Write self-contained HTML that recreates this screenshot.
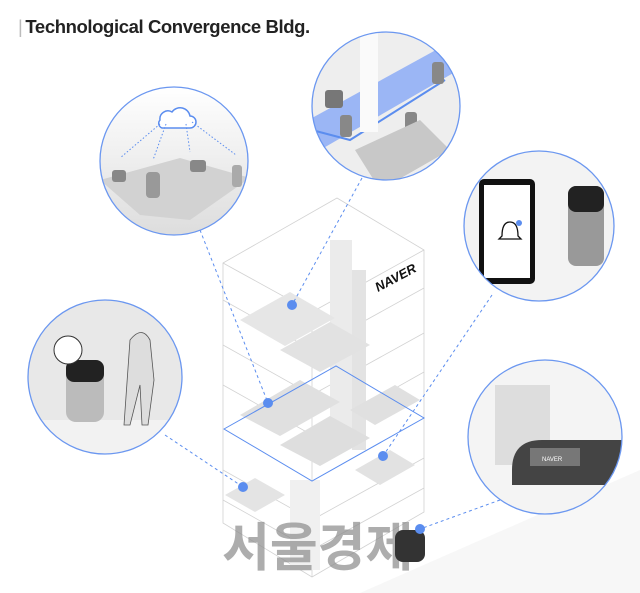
<!DOCTYPE html>
<html><head><meta charset="utf-8"><style>
body{margin:0;background:#fff;width:640px;height:593px;overflow:hidden;position:relative;font-family:"Liberation Sans","Noto Sans CJK KR",sans-serif}
.t{position:absolute;left:18px;top:16px;font-size:18.5px;font-weight:bold;color:#222;letter-spacing:-0.4px}
.t span{color:#bbb;font-weight:normal;margin-right:3px}
</style></head><body>
<div class="t"><span>|</span>Technological Convergence Bldg.</div>
<svg width="640" height="593" style="position:absolute;left:0;top:0">
<defs>
<linearGradient id="g" x1="0" y1="0" x2="0" y2="1"><stop offset="0" stop-color="#fff"/><stop offset="1" stop-color="#ddd"/></linearGradient>
<clipPath id="c1"><circle cx="174" cy="161" r="74"/></clipPath>
<clipPath id="c2"><circle cx="386" cy="106" r="74"/></clipPath>
<clipPath id="c3"><circle cx="539" cy="226" r="75"/></clipPath>
<clipPath id="c4"><circle cx="105" cy="377" r="77"/></clipPath>
<clipPath id="c5"><circle cx="545" cy="437" r="77"/></clipPath>
</defs>
<polygon points="360,593 640,470 640,593" fill="#f7f7f7"/>
<g fill="none" stroke="#d2d2d2" stroke-width="0.8">
<polygon points="223,263 337,198 424,250 424,512 312,577 223,523"/>
<line x1="223" y1="263" x2="312" y2="312"/><line x1="312" y1="312" x2="424" y2="250"/>
<line x1="312" y1="312" x2="312" y2="577"/>
<polyline points="223,300 312,350 424,288"/>
<polyline points="223,345 312,395 424,333"/>
<polyline points="223,385 312,435 424,372"/>
<polyline points="223,470 312,520 424,458"/>
<polyline points="223,500 312,550 424,488"/>
</g>
<rect x="330" y="240" width="22" height="200" fill="#ebebeb"/>
<rect x="352" y="270" width="14" height="180" fill="#e3e3e3"/>
<rect x="290" y="480" width="30" height="90" fill="#f0f0f0"/>
<polygon points="240,320 290,292 335,318 285,346" fill="#e6e6e6"/>
<polygon points="280,350 330,322 370,345 320,372" fill="#e2e2e2"/>
<polygon points="240,415 300,380 340,402 280,436" fill="#e0e0e0"/>
<polygon points="280,445 330,416 370,438 320,466" fill="#dedede"/>
<polygon points="350,410 395,385 420,400 375,425" fill="#e0e0e0"/>
<polygon points="355,470 390,450 415,465 380,485" fill="#e2e2e2"/>
<polygon points="225,495 255,478 285,495 255,512" fill="#e4e4e4"/>
<polygon points="224,429 336,366 424,418 312,481" fill="none" stroke="#5b8def" stroke-width="1"/>
<text x="378" y="292" font-size="13" font-weight="bold" font-style="italic" fill="#111" transform="rotate(-28 378 292)">NAVER</text>
<text x="222" y="566" font-size="52" font-weight="bold" fill="#8a8a8a" fill-opacity="0.7" font-family="'Noto Sans CJK KR',sans-serif">서울경제</text>
<rect x="395" y="530" width="30" height="32" rx="8" fill="#333"/>
<g stroke="#5b8def" stroke-width="1" stroke-dasharray="3,3" fill="none">
<line x1="200" y1="230" x2="268" y2="403"/>
<line x1="362" y1="178" x2="292" y2="305"/>
<line x1="492" y1="295" x2="383" y2="456"/>
<line x1="165" y1="435" x2="243" y2="487"/>
<line x1="500" y1="500" x2="420" y2="529"/>
</g>
<g fill="#5b8def"><circle cx="292" cy="305" r="5"/><circle cx="268" cy="403" r="5"/><circle cx="383" cy="456" r="5"/><circle cx="243" cy="487" r="5"/><circle cx="420" cy="529" r="5"/></g>
<circle cx="174" cy="161" r="74" fill="url(#g)"/>
<circle cx="386" cy="106" r="74" fill="#eee"/>
<circle cx="539" cy="226" r="75" fill="#f3f3f3"/>
<circle cx="105" cy="377" r="77" fill="#f2f2f2"/>
<circle cx="545" cy="437" r="77" fill="#f4f4f4"/>
<g clip-path="url(#c1)">
<polygon points="100,180 180,158 250,178 190,220 140,215" fill="#d2d2d2"/>
<path d="M160,120 a8,8 0 0 1 12,-8 a10,10 0 0 1 18,4 a6,6 0 0 1 0,12 h-28 a5,5 0 0 1 -2,-8z" fill="#fff" stroke="#5b8def" stroke-width="1.5"/>
<g stroke="#5b8def" stroke-dasharray="1.5,2"><line x1="160" y1="124" x2="120" y2="158"/><line x1="166" y1="124" x2="153" y2="160"/><line x1="186" y1="124" x2="190" y2="152"/><line x1="192" y1="122" x2="236" y2="155"/></g>
<rect x="146" y="172" width="14" height="26" rx="4" fill="#999"/>
<rect x="112" y="170" width="14" height="12" rx="3" fill="#888"/>
<rect x="190" y="160" width="16" height="12" rx="3" fill="#888"/>
<rect x="232" y="165" width="10" height="22" rx="3" fill="#aaa"/>
</g>
<g clip-path="url(#c2)">
<rect x="312" y="32" width="150" height="150" fill="#eee"/>
<polygon points="312,118 445,45 462,68 320,150" fill="#9bb6f5"/>
<polyline points="312,130 350,140 445,80" fill="none" stroke="#5b8def" stroke-width="2"/>
<rect x="360" y="32" width="18" height="100" fill="#fafafa"/>
<rect x="325" y="90" width="18" height="18" rx="3" fill="#777"/>
<rect x="340" y="115" width="12" height="22" rx="3" fill="#888"/>
<rect x="432" y="62" width="12" height="22" rx="3" fill="#888"/>
<rect x="405" y="112" width="12" height="22" rx="3" fill="#888"/>
<polygon points="355,150 420,120 450,150 380,190" fill="#c8c8c8"/>
</g>
<g clip-path="url(#c3)">
<rect x="479" y="179" width="56" height="105" rx="5" fill="#111"/>
<rect x="484" y="185" width="46" height="93" fill="#fff"/>
<path d="M502,236 q0,-14 8,-14 q8,0 8,14 l3,3 h-22z" fill="none" stroke="#111" stroke-width="1.3"/>
<circle cx="519" cy="223" r="3" fill="#5b8def"/>
<rect x="568" y="186" width="36" height="80" rx="8" fill="#999"/>
<rect x="568" y="186" width="36" height="26" rx="8" fill="#222"/>
</g>
<g clip-path="url(#c4)">
<rect x="28" y="300" width="160" height="120" fill="#e8e8e8"/>
<rect x="66" y="360" width="38" height="62" rx="10" fill="#bbb"/>
<rect x="66" y="360" width="38" height="22" rx="8" fill="#222"/>
<circle cx="68" cy="350" r="14" fill="#fff" stroke="#333"/>
<path d="M130,340 q12,-15 20,0 l4,40 l-6,45 h-6 l-2,-40 l-10,40 h-6 z" fill="#ddd" stroke="#555" stroke-width="0.8"/>
</g>
<g clip-path="url(#c5)">
<rect x="495" y="385" width="55" height="80" fill="#ddd"/>
<path d="M512,485 v-15 q0,-30 30,-30 h80 v45 z" fill="#444"/>
<rect x="530" y="448" width="50" height="18" fill="#777"/>
<text x="542" y="461" font-size="6" fill="#fff">NAVER</text>
</g>
<g fill="none" stroke="#6b97f0" stroke-width="1.3">
<circle cx="174" cy="161" r="74"/><circle cx="386" cy="106" r="74"/><circle cx="539" cy="226" r="75"/><circle cx="105" cy="377" r="77"/><circle cx="545" cy="437" r="77"/>
</g>
</svg>
</body></html>
